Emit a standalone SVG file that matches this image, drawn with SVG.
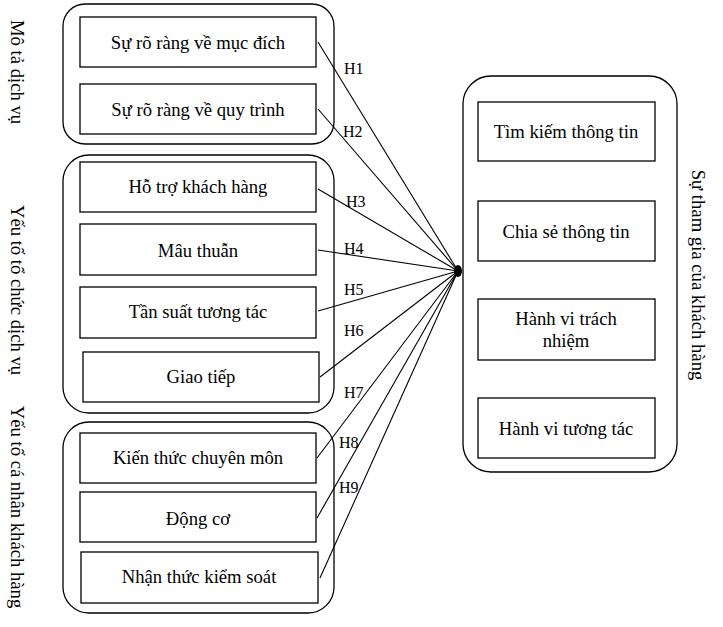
<svg xmlns="http://www.w3.org/2000/svg" width="723" height="627" viewBox="0 0 723 627">
<style>
.grp{fill:none;stroke:#000;stroke-width:1.3}
.box{fill:none;stroke:#000;stroke-width:1.3}
.t{font-family:"Liberation Serif","Times New Roman",serif;font-size:18.67px;fill:#000;text-anchor:middle}
.h{font-family:"Liberation Serif","Times New Roman",serif;font-size:16px;fill:#000}
.c{stroke:#000;stroke-width:1.1;fill:none}
</style>
<rect width="723" height="627" fill="#fff"/>
<g id="group-mo-ta">
<rect class="grp" x="63" y="4" width="271" height="140" rx="22"/>
<text class="t" transform="translate(11,72) rotate(90)">Mô tả dịch vụ</text>
</g>
<g id="group-to-chuc">
<rect class="grp" x="63" y="155" width="271" height="258" rx="26"/>
<text class="t" transform="translate(11,290) rotate(90)">Yếu tố tổ chức dịch vụ</text>
</g>
<g id="group-ca-nhan">
<rect class="grp" x="63" y="422" width="271" height="191" rx="26"/>
<text class="t" transform="translate(11,507) rotate(90)">Yếu tố cá nhân khách hàng</text>
</g>
<g id="group-tham-gia">
<rect class="grp" x="463" y="76" width="214" height="396" rx="28"/>
<text class="t" transform="translate(692,275) rotate(90)">Sự tham gia của khách hàng</text>
</g>
<g id="n1"><rect class="box" x="80" y="17" width="236" height="50"/><text class="t" x="198" y="49">Sự rõ ràng về mục đích</text></g>
<g id="n2"><rect class="box" x="80" y="84" width="236" height="50"/><text class="t" x="198" y="116">Sự rõ ràng về quy trình</text></g>
<g id="n3"><rect class="box" x="80" y="162" width="236" height="50"/><text class="t" x="198" y="193">Hỗ trợ khách hàng</text></g>
<g id="n4"><rect class="box" x="80" y="224" width="236" height="51"/><text class="t" x="198" y="257">Mâu thuẫn</text></g>
<g id="n5"><rect class="box" x="80" y="287" width="236" height="51"/><text class="t" x="198" y="318">Tần suất tương tác</text></g>
<g id="n6"><rect class="box" x="83" y="352" width="236" height="50"/><text class="t" x="201" y="383">Giao tiếp</text></g>
<g id="n7"><rect class="box" x="80" y="433" width="236" height="50"/><text class="t" x="198" y="464">Kiến thức chuyên môn</text></g>
<g id="n8"><rect class="box" x="80" y="492" width="236" height="50"/><text class="t" x="198" y="525">Động cơ</text></g>
<g id="n9"><rect class="box" x="81" y="552" width="237" height="51"/><text class="t" x="199" y="583">Nhận thức kiểm soát</text></g>
<g id="r1"><rect class="box" x="478" y="102" width="177" height="59"/><text class="t" x="566" y="138">Tìm kiếm thông tin</text></g>
<g id="r2"><rect class="box" x="478" y="201" width="177" height="60"/><text class="t" x="566" y="238">Chia sẻ thông tin</text></g>
<g id="r3"><rect class="box" x="478" y="299" width="177" height="61"/><text class="t" x="566" y="325">Hành vi trách</text><text class="t" x="566" y="347">nhiệm</text></g>
<g id="r4"><rect class="box" x="478" y="398" width="177" height="60"/><text class="t" x="566" y="435">Hành vi tương tác</text></g>
<g id="connectors">
<line class="c" x1="318" y1="42" x2="458" y2="271"/>
<line class="c" x1="318" y1="109" x2="458" y2="271"/>
<line class="c" x1="318" y1="189" x2="458" y2="271"/>
<line class="c" x1="318" y1="250" x2="458" y2="271"/>
<line class="c" x1="318" y1="311" x2="458" y2="271"/>
<line class="c" x1="320" y1="377" x2="458" y2="271"/>
<line class="c" x1="317" y1="458" x2="458" y2="271"/>
<line class="c" x1="317" y1="518" x2="458" y2="271"/>
<line class="c" x1="320" y1="578" x2="458" y2="271"/>
<ellipse cx="458" cy="271" rx="4" ry="6" fill="#000"/>
<text class="h" x="344" y="74">H1</text>
<text class="h" x="343" y="137">H2</text>
<text class="h" x="346" y="207">H3</text>
<text class="h" x="344" y="254">H4</text>
<text class="h" x="344" y="295">H5</text>
<text class="h" x="344" y="336">H6</text>
<text class="h" x="344" y="398">H7</text>
<text class="h" x="339" y="448">H8</text>
<text class="h" x="339" y="493">H9</text>
</g>
</svg>
